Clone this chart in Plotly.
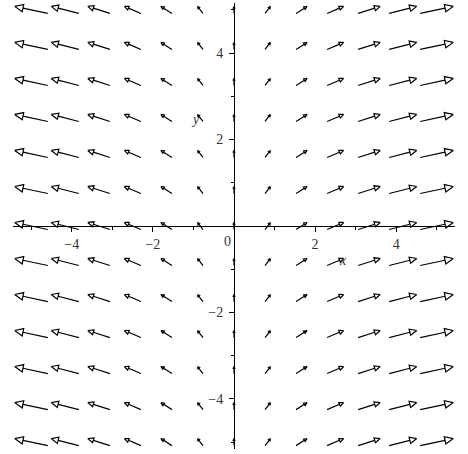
import plotly.graph_objects as go
import math

# grid of the field plot (13 x 13 points) and field components F = (x, 1)
grid_x = [-5.0, -4.167, -3.333, -2.5, -1.667, -0.833, 0.0, 0.833, 1.667, 2.5, 3.333, 4.167, 5.0]
grid_y = [-5.0, -4.167, -3.333, -2.5, -1.667, -0.833, 0.0, 0.833, 1.667, 2.5, 3.333, 4.167, 5.0]
u_by_col = [-5.0, -4.167, -3.333, -2.5, -1.667, -0.833, 0.0, 0.833, 1.667, 2.5, 3.333, 4.167, 5.0]
v_by_col = [1, 1, 1, 1, 1, 1, 1, 1, 1, 1, 1, 1, 1]

x_ticks = [-4, -2, 2, 4]
x_tick_text = ["\u22124", "\u22122", "2", "4"]
y_ticks = [-4, -2, 2, 4]
y_tick_text = ["\u22124", "\u22122", "2", "4"]

W, H = 468, 454
ML, MR, MT, MB = 13, 13, 3, 5
XR = [-5.45, 5.45]
YR = [-5.16, 5.16]
sx = (W - ML - MR) / (XR[1] - XR[0])
sy = (H - MT - MB) / (YR[1] - YR[0])

maxmag = max(math.hypot(u, v) for u, v in zip(u_by_col, v_by_col))
spacing = grid_x[1] - grid_x[0]
k = spacing / maxmag

shaft_x, shaft_y, head_x, head_y = [], [], [], []
for i, gx in enumerate(grid_x):
    u, v = u_by_col[i], v_by_col[i]
    for gy in grid_y:
        dx, dy = k * u, k * v
        tx, ty = gx - dx / 2, gy - dy / 2
        hx, hy = gx + dx / 2, gy + dy / 2
        px, py = dx * sx, dy * sy
        L = math.hypot(px, py)
        if L == 0:
            continue
        ex, ey = px / L, py / L
        hl, hw = 0.25 * L, 0.11 * L
        bx, by = hx - hl * ex / sx, hy - hl * ey / sy
        lx, ly = bx - hw * ey / sx, by + hw * ex / sy
        rx, ry = bx + hw * ey / sx, by - hw * ex / sy
        shaft_x += [tx, bx, None]
        shaft_y += [ty, by, None]
        head_x += [hx, lx, rx, hx, None]
        head_y += [hy, ly, ry, hy, None]

fig = go.Figure()
fig.add_trace(go.Scatter(x=shaft_x, y=shaft_y, mode="lines", cliponaxis=False,
                         line=dict(color="black", width=1.2, simplify=False),
                         hoverinfo="skip", showlegend=False))
fig.add_trace(go.Scatter(x=head_x, y=head_y, mode="lines", cliponaxis=False,
                         line=dict(color="black", width=1.2, simplify=False),
                         hoverinfo="skip", showlegend=False))

font = dict(family="Liberation Serif, Times New Roman, serif", size=14, color="#333333")

fig.update_layout(
    width=W, height=H,
    margin=dict(l=ML, r=MR, t=MT, b=MB, autoexpand=False),
    plot_bgcolor="white", paper_bgcolor="white",
    showlegend=False,
    xaxis=dict(range=XR, showgrid=False, zeroline=False, showline=True, linecolor="black",
               linewidth=1, anchor="free", position=0.5, tickvals=x_ticks, ticktext=x_tick_text,
               ticks="outside", ticklen=5, tickcolor="black", tickfont=font, automargin=False,
               minor=dict(dtick=1, tick0=0, ticks="outside", ticklen=3, tickcolor="black")),
    yaxis=dict(range=YR, showgrid=False, zeroline=False, showline=True, linecolor="black",
               linewidth=1, anchor="free", position=0.5, tickvals=y_ticks, ticktext=y_tick_text,
               ticks="outside", ticklen=5, tickcolor="black", tickfont=font, automargin=False,
               ticklabelstandoff=3,
               minor=dict(dtick=1, tick0=0, ticks="outside", ticklen=3, tickcolor="black")),
    annotations=[
        dict(x=0, y=0, xref="x", yref="y", text="0", showarrow=False, font=font,
             xanchor="right", yanchor="top", xshift=-1, yshift=-6),
        dict(x=2.7, y=-0.8, xref="x", yref="y", text="<i>x</i>", showarrow=False, font=font),
        dict(x=-0.95, y=2.47, xref="x", yref="y", text="<i>y</i>", showarrow=False, font=font),
    ],
)

fig.write_html("out.html", config={"displayModeBar": False, "staticPlot": True},
               post_script="document.body.style.margin='0';")
